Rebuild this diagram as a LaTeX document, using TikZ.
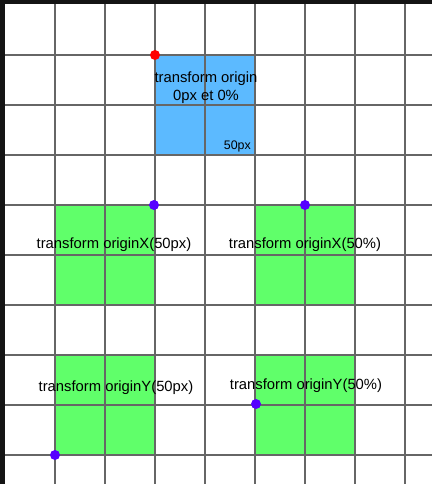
\documentclass[tikz,border=0pt]{standalone}
\usepackage{fontspec}
\setmainfont{Liberation Sans}
\begin{document}
\begin{tikzpicture}[x=1pt,y=-1pt,
  gridline/.style={draw=black!60,line width=2pt},
  bluebox/.style={fill=skyblue,draw=none},
  greenbox/.style={fill=lightgreen,draw=none},
  lbl/.style={font=\fontsize{14.8}{18}\selectfont,text=black,inner sep=0pt,align=center},
  dot/.style={circle,fill=#1,inner sep=0pt,minimum size=10pt}]
\definecolor{skyblue}{RGB}{92,186,255}
\definecolor{lightgreen}{RGB}{96,255,106}
\definecolor{purpledot}{RGB}{85,0,255}
\definecolor{border}{RGB}{20,20,20}
\useasboundingbox (0,0) rectangle (432,484);
\fill[white] (0,0) rectangle (432,484);
% boxes
\fill[bluebox] (155,55) rectangle (255,155);
\fill[greenbox] (55,205) rectangle (155,305);
\fill[greenbox] (255,205) rectangle (355,305);
\fill[greenbox] (55,355) rectangle (155,455);
\fill[greenbox] (255,355) rectangle (355,455);
% grid
\foreach \x in {55,105,...,405} \draw[gridline] (\x,0) -- (\x,484);
\foreach \y in {55,105,...,455} \draw[gridline] (0,\y) -- (432,\y);
% dark border
\fill[border] (0,0) rectangle (432,4.5);
\fill[border] (0,0) rectangle (4.5,484);
% labels
\node[lbl] (t0) at (206,88) {transform origin\\0px et 0\%};
\node[lbl,anchor=south east] (t0s) at (251,152) {\fontsize{12.4}{14}\selectfont 50px};
\node[lbl] (t1) at (114,245) {transform originX(50px)};
\node[lbl] (t2) at (305,245) {transform originX(50\%)};
\node[lbl] (t3) at (116,388) {transform originY(50px)};
\node[lbl] (t4) at (306,386) {transform originY(50\%)};
% dots
\node[dot=red] (d0) at (155,55) {};
\node[dot=purpledot] (d1) at (154,205) {};
\node[dot=purpledot] (d2) at (305,205) {};
\node[dot=purpledot] (d3) at (55,455) {};
\node[dot=purpledot] (d4) at (256,404) {};
\end{tikzpicture}
\end{document}
